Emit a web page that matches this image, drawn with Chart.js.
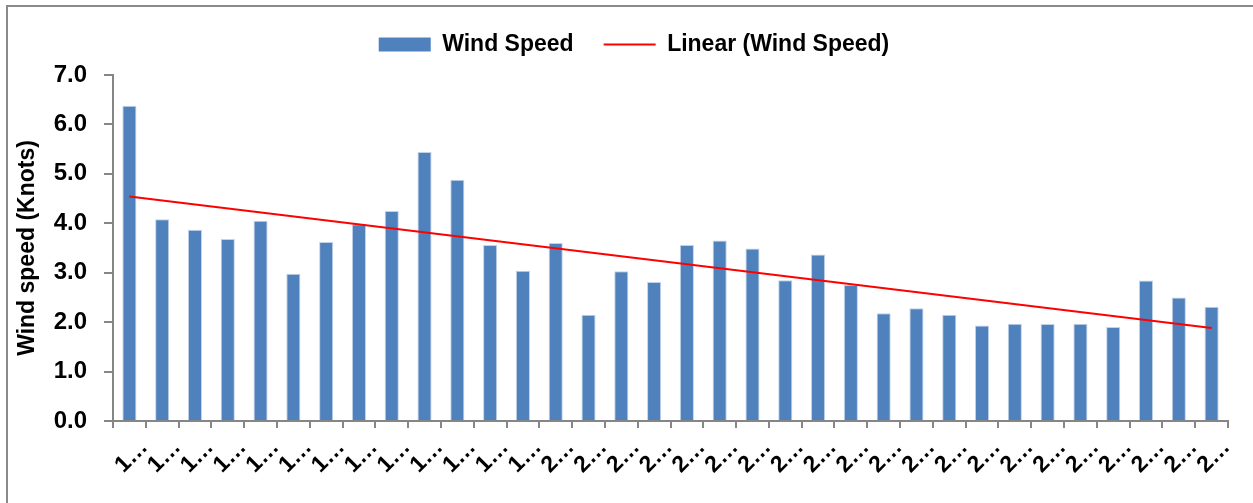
<!DOCTYPE html>
<html>
<head>
<meta charset="utf-8">
<script src="https://cdn.jsdelivr.net/npm/chart.js@4"></script>
<style>
  html, body { margin: 0; padding: 0; background: #fff; overflow: hidden; }
  #wrap { position: relative; width: 1253px; height: 503px; }
  #frame { position: absolute; left: 6px; top: 5px; width: 1300px; height: 600px; border: 2px solid #8a8a8a; box-sizing: border-box; }
  #box { position: absolute; left: 0; top: 0; width: 1253px; height: 503px; }
</style>
</head>
<body>
<div id="wrap">
  <div id="frame"></div>
  <div id="box"><canvas id="c"></canvas></div>
</div>
<script>
// ---- data ----
const categories = [
  "1…","1…","1…","1…","1…","1…","1…","1…","1…","1…","1…","1…","1…",
  "2…","2…","2…","2…","2…","2…","2…","2…","2…","2…","2…","2…","2…",
  "2…","2…","2…","2…","2…","2…","2…","2…"
];
const windSpeed = [
  6.38, 4.08, 3.87, 3.68, 4.05, 2.98, 3.62, 3.98, 4.25, 5.44, 4.88, 3.56,
  3.04, 3.60, 2.15, 3.03, 2.81, 3.56, 3.65, 3.49, 2.85, 3.37, 2.75, 2.18,
  2.28, 2.15, 1.93, 1.97, 1.96, 1.97, 1.90, 2.84, 2.50, 2.31
];
const trendStart = 4.54;
const trendEnd = 1.88;
const yTicks = [0, 1, 2, 3, 4, 5, 6, 7];

const seriesName = "Wind Speed";
const trendName = "Linear (Wind Speed)";
const yTitle = "Wind speed (Knots)";

const trendData = categories.map((_, i) =>
  i === 0 ? trendStart : (i === categories.length - 1 ? trendEnd : null));

const FONT = "'Liberation Sans Narrow', 'Arial Narrow', 'Liberation Sans', Arial, sans-serif";
const BAR = '#4F81BD';
const AXIS = '#868686';

const chart = new Chart(document.getElementById('c'), {
  type: 'bar',
  data: {
    labels: categories,
    datasets: [
      {
        label: seriesName,
        data: windSpeed,
        backgroundColor: BAR,
        borderColor: 'rgba(190,208,232,0.95)',
        borderWidth: 1,
        barPercentage: 0.43,
        categoryPercentage: 1.0,
        order: 1
      },
      {
        type: 'line',
        label: trendName,
        data: trendData,
        spanGaps: true,
        borderColor: '#FF0000',
        borderWidth: 2,
        pointRadius: 0,
        fill: false,
        order: 0
      }
    ]
  },
  options: {
    responsive: true,
    maintainAspectRatio: false,
    animation: false,
    devicePixelRatio: 1,
    layout: { padding: { left: 40, right: 25, top: 3, bottom: 0 } },
    plugins: {
      tooltip: { enabled: false },
      title: {
        display: true,
        text: '',
        position: 'top',
        weight: 500,
        padding: 0,
        font: { size: 9, lineHeight: 1 }
      },
      legend: {
        position: 'top',
        labels: {
          usePointStyle: true,
          pointStyleWidth: 52,
          boxHeight: 14,
          padding: 30,
          color: '#000',
          font: { family: FONT, size: 23, weight: 'bold' },
          sort: (a, b) => a.datasetIndex - b.datasetIndex,
          generateLabels(ch) {
            const items = Chart.defaults.plugins.legend.labels.generateLabels(ch);
            items.forEach(it => {
              if (it.datasetIndex === 0) {
                it.pointStyle = 'rect'; it.fillStyle = BAR; it.strokeStyle = BAR; it.lineWidth = 0;
              } else {
                it.pointStyle = 'line'; it.strokeStyle = '#FF0000'; it.lineWidth = 2;
              }
            });
            return items;
          }
        }
      }
    },
    scales: {
      x: {
        offset: true,
        grid: { offset: true, drawOnChartArea: false, drawTicks: true, tickLength: 7, color: AXIS, lineWidth: 2 },
        border: { display: true, color: AXIS, width: 2 },
        ticks: {
          autoSkip: false, maxRotation: 45, minRotation: 45, padding: 6, labelOffset: 15,
          color: '#000', font: { family: FONT, size: 23, weight: 'bold' }
        },
        afterFit(scale) { scale.height = 82; }
      },
      y: {
        min: 0, max: 7,
        afterBuildTicks(scale) { scale.ticks = yTicks.map(v => ({ value: v })); },
        grid: { drawOnChartArea: false, drawTicks: true, tickLength: 9, color: AXIS, lineWidth: 2 },
        border: { display: true, color: AXIS, width: 2 },
        ticks: {
          padding: 17, color: '#000',
          font: { family: FONT, size: 24, weight: 'bold' },
          callback: v => Number(v).toFixed(1)
        },
        title: {
          display: true, text: yTitle, color: '#000',
          font: { family: FONT, size: 23, weight: 'bold' },
          padding: { top: -26, bottom: 0 }
        },
        afterFit(scale) { scale.width = 73; }
      }
    }
  }
});
</script>
</body>
</html>
